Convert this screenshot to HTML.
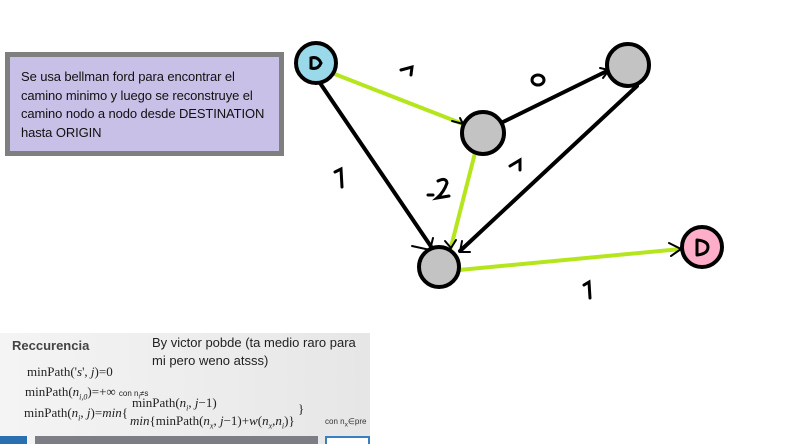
<!DOCTYPE html>
<html><head><meta charset="utf-8"><style>
body{margin:0;width:800px;height:444px;background:#fff;position:relative;overflow:hidden;font-family:"Liberation Sans",sans-serif}
.box{position:absolute;left:5px;top:52px;width:269px;height:94px;border:5px solid #7f7f7f;background:#c8c0e6;}
.box p{margin:0;position:absolute;left:11px;top:11px;font-size:13px;line-height:18.5px;color:#111;white-space:nowrap;letter-spacing:-0.1px}
.strip{position:absolute;left:0;top:333px;width:370px;height:111px;background:linear-gradient(90deg,#f4f4f4,#ececec 60%,#e6e6e6)}
.m{position:absolute;font-family:"Liberation Serif",serif;color:#222;font-size:13px;white-space:nowrap}
</style></head><body>
<div class="box"><p>Se usa bellman ford para encontrar el<br>camino minimo y luego se reconstruye el<br>camino nodo a nodo desde DESTINATION<br>hasta ORIGIN</p></div>
<div class="strip">
<div style="position:absolute;left:12px;top:5px;font-weight:bold;font-size:13px;color:#444">Reccurencia</div>
<div class="m" style="left:27px;top:31px">minPath('<i>s</i>', <i>j</i>)=0</div>
<div class="m" style="left:25px;top:51px">minPath(<i>n<sub style="font-size:8px">i,0</sub></i>)=+∞ <span style="font-family:'Liberation Sans';font-size:8px">con n<sub>i</sub>≠s</span></div>
<div class="m" style="left:24px;top:72px">minPath(<i>n<sub style="font-size:8px">i</sub></i>, <i>j</i>)=<i>min</i>{</div>
<div class="m" style="left:132px;top:62px">minPath(<i>n<sub style="font-size:8px">i</sub></i>, <i>j</i>−1)</div>
<div class="m" style="left:130px;top:80px"><i>min</i>{minPath(<i>n<sub style="font-size:8px">x</sub></i>, <i>j</i>−1)+<i>w</i>(<i>n<sub style="font-size:8px">x</sub></i>,<i>n<sub style="font-size:8px">i</sub></i>)}</div>
<div class="m" style="left:298px;top:68px">}</div>
<div style="position:absolute;left:325px;top:84px;font-size:8px;color:#333;white-space:nowrap">con n<sub>x</sub>∈pre</div>
<div style="position:absolute;left:0;top:103px;width:27px;height:8px;background:#2a6fb0"></div>
<div style="position:absolute;left:35px;top:103px;width:283px;height:8px;background:#7d7d85"></div>
<div style="position:absolute;left:325px;top:103px;width:45px;height:8px;background:#fff;border:2px solid #3a7fc0;border-bottom:none;box-sizing:border-box"></div>
</div>
<div style="position:absolute;left:152px;top:334px;font-size:13px;line-height:18px;color:#222;white-space:nowrap">By victor pobde (ta medio raro para<br>mi pero weno atsss)</div>
<svg width="800" height="444" style="position:absolute;left:0;top:0" fill="none" stroke-linecap="round">
<g stroke="#b5e61d" stroke-width="4">
<line x1="332" y1="73" x2="463" y2="124"/>
<line x1="475" y1="153" x2="451" y2="247"/>
<line x1="459" y1="270" x2="681" y2="249"/>
</g>
<g stroke="#000" stroke-width="4">
<line x1="320" y1="83" x2="432" y2="248"/>
<line x1="503" y1="122" x2="609" y2="70"/>
<line x1="637" y1="86" x2="460" y2="251"/>
</g>
<g stroke="#000" stroke-width="2">
<path d="M452 121 L463 124 L460 118"/>
<path d="M600 68 L609 70 L603 78"/>
<path d="M412 246 L430 250 L433 238"/>
<path d="M445 241 L451 248 L456 240"/>
<path d="M462 241 L460 252 L470 252"/>
<path d="M669 243 L681 249 L671 256"/>
</g>
<g stroke="#000" stroke-width="4">
<circle cx="316" cy="63" r="20" fill="#99d9ea"/>
<circle cx="483" cy="133" r="21" fill="#c3c3c3"/>
<circle cx="628" cy="65" r="21" fill="#c3c3c3"/>
<circle cx="439" cy="267" r="20" fill="#c3c3c3"/>
<circle cx="702" cy="247" r="20" fill="#ffaec9"/>
</g>
<g stroke="#000" stroke-width="3">
<path d="M311 58 Q318 56 321 63 Q318 70 311 68 Z"/>
<path d="M697 240 L697 255 M697 240 Q708 241 708 247 Q708 254 697 255"/>
<ellipse cx="538" cy="80" rx="6" ry="5"/>
<path d="M401 70 L412 67 L411 75"/>
<path d="M510 166 L520 160 L520 170"/>
<path d="M335 172 L341 169 L342 187"/>
<path d="M584 285 L589 282 L590 298"/>
<path d="M428 195 L433 195 M438 181 Q446 177 447 183 Q444 192 437 198 L449 196"/>
</g>
</svg>
</body></html>
